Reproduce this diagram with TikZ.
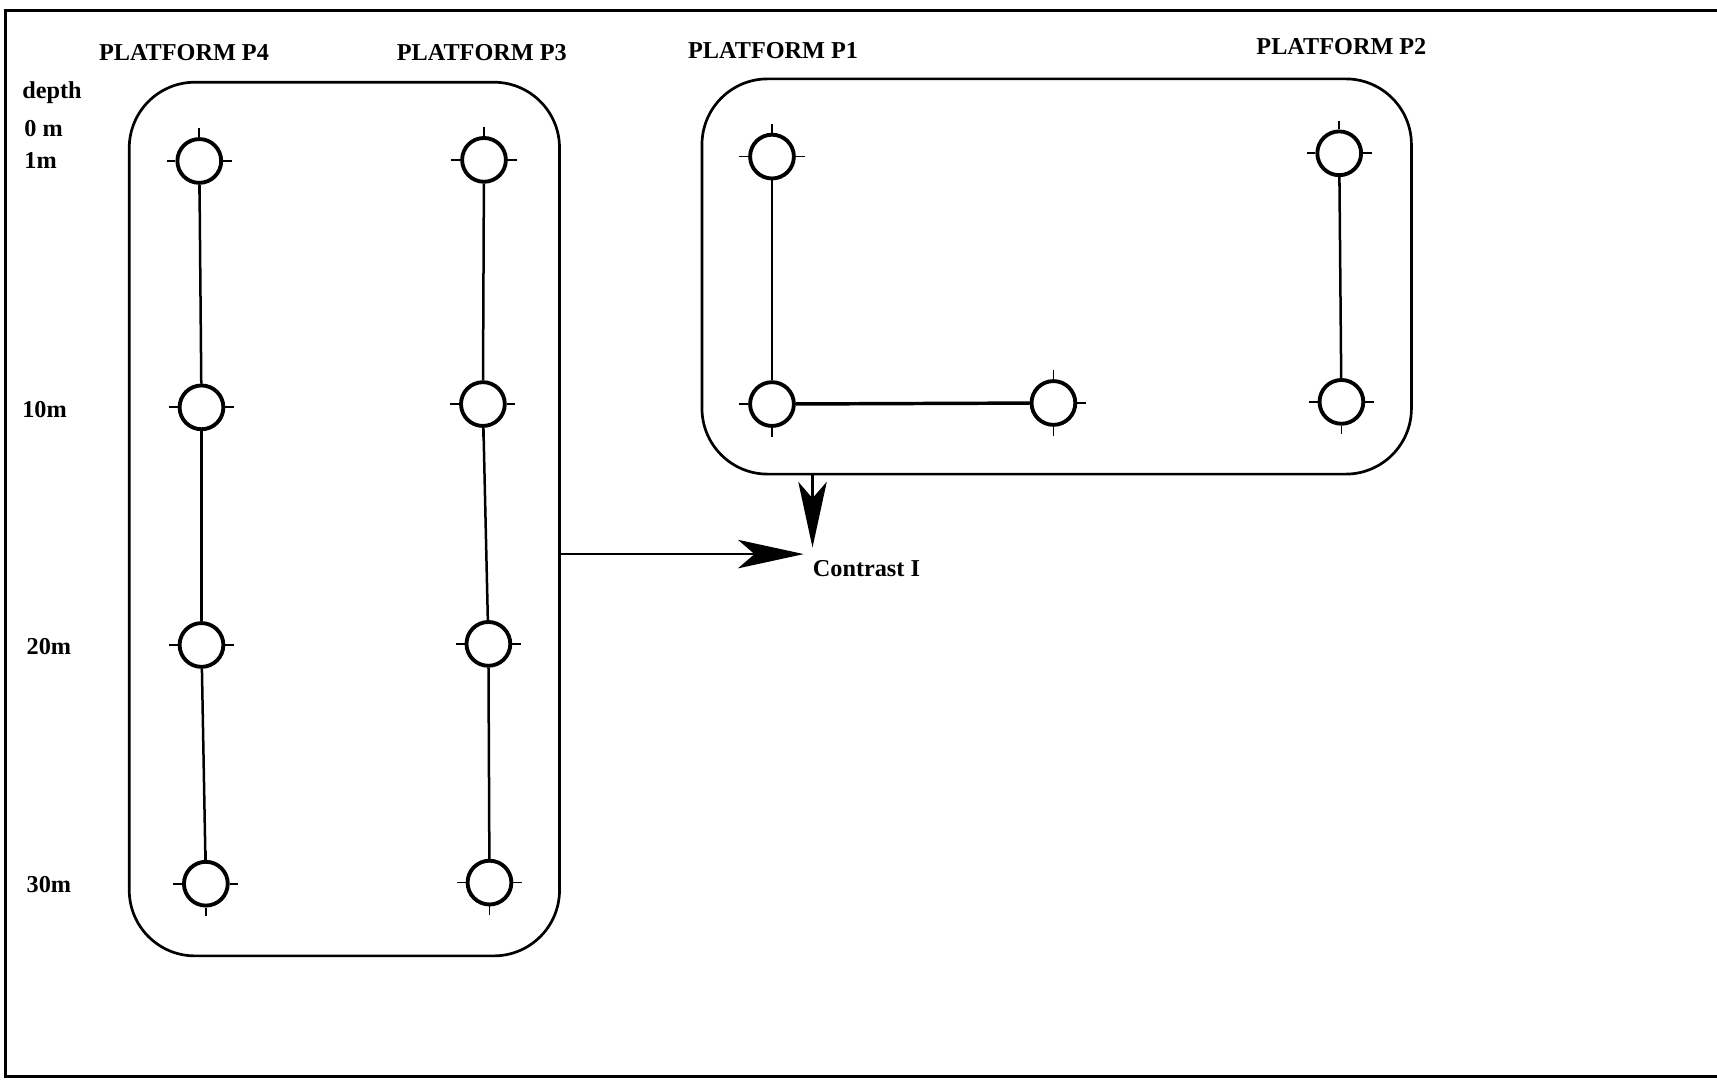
\documentclass[tikz,border=0pt]{standalone}
\usepackage{fontspec}
\setmainfont{Liberation Serif}
\usetikzlibrary{arrows.meta}
\begin{document}
\begin{tikzpicture}[x=0.02cm,y=-0.02cm,
  lbl/.style={font=\fontsize{12.6}{14}\selectfont\bfseries, inner sep=0pt},
  sensor/.style={circle, draw, line width=2pt, minimum size=0.8cm, inner sep=0pt},
  sensortick/.style={line width=0.9pt},
  link/.style={line width=1.3pt},
  grp/.style={draw, line width=1.4pt, rounded corners=1.2cm, inner sep=0pt},
  arr/.style={line width=1.2pt, -{Stealth[length=1.2cm, width=0.52cm, inset=0.3cm]}},
  frameline/.style={line width=1.6pt}]
\useasboundingbox (0,0) rectangle (1568,987);
% frame
\draw[frameline] (1568,10) -- (5,10) -- (5,983) -- (1568,983);
% titles
\node[lbl] (tP4) at (168,48) {PLATFORM P4};
\node[lbl] (tP3) at (440,48) {PLATFORM P3};
\node[lbl] (tP1) at (706,46) {PLATFORM P1};
\node[lbl] (tP2) at (1225,43) {PLATFORM P2};
% depth labels
\node[lbl, anchor=west] (dep) at (20,85) {depth};
\node[lbl, anchor=west] (d0) at (22,117) {0 m};
\node[lbl, anchor=west] (d1) at (22,147) {1m};
\node[lbl, anchor=west] (d10) at (20,374) {10m};
\node[lbl, anchor=west] (d20) at (24,590) {20m};
\node[lbl, anchor=west] (d30) at (24,808) {30m};
% groups
\node[grp, minimum width=7.86cm, minimum height=15.96cm] (L) at (314.5,474) {};
\node[grp, minimum width=12.96cm, minimum height=7.22cm] (R) at (965,252.5) {};
% sensors
\node[sensor] (p4a) at (182,147) {};
\node[sensor] (p4b) at (184,372) {};
\node[sensor] (p4c) at (184,589) {};
\node[sensor] (p4d) at (188,807) {};
\node[sensor] (p3a) at (442,146) {};
\node[sensor] (p3b) at (441,369) {};
\node[sensor] (p3c) at (446,588) {};
\node[sensor] (p3d) at (447,806) {};
\node[sensor] (p1a) at (705,143) {};
\node[sensor] (p1b) at (705,369) {};
\node[sensor] (p1c) at (962,368) {};
\node[sensor] (p2a) at (1223,140) {};
\node[sensor] (p2b) at (1225,367) {};
\foreach \s in {p4a,p4b,p4c,p4d,p3a,p3b,p3c,p3d,p1a,p1b,p1c,p2a,p2b}{
  \draw[sensortick] (\s.north) -- ++(0cm,0.16cm);
  \draw[sensortick] (\s.south) -- ++(0cm,-0.16cm);
  \draw[sensortick] (\s.west) -- ++(-0.16cm,0cm);
  \draw[sensortick] (\s.east) -- ++(0.16cm,0cm);
}
% links
\draw[link] (p4a) -- (p4b);
\draw[link] (p4b) -- (p4c);
\draw[link] (p4c) -- (p4d);
\draw[link] (p3a) -- (p3b);
\draw[link] (p3b) -- (p3c);
\draw[link] (p3c) -- (p3d);
\draw[link] (p1a) -- (p1b);
\draw[link, line width=1.8pt] (p1b) -- (p1c);
\draw[link] (p2a) -- (p2b);
% contrast
\node[lbl, anchor=west] (con) at (742,519) {Contrast I};
\coordinate (tipH) at (734,506);
\coordinate (tipV) at (742,500);
\draw[arr] (L.east |- tipH) -- (tipH);
\draw[arr] (R.south -| tipV) -- (tipV);
\end{tikzpicture}
\end{document}
